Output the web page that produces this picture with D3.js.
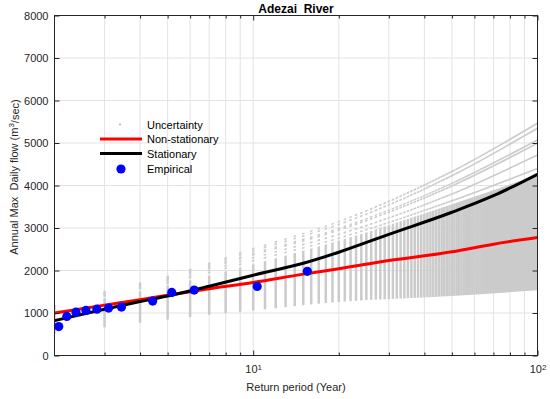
<!DOCTYPE html>
<html lang="en">
<head>
<meta charset="UTF-8">
<title>Adezai River</title>
<style>
	body { margin: 0; background: #fff; }
	text { font-family: "Liberation Sans", Arial, sans-serif; }
</style>
</head>
<body>
<script src="https://cdn.jsdelivr.net/npm/d3@7"></script>
<script>

var curveT = [2, 3, 4, 5, 7, 10, 15, 20, 30, 50, 70, 100];
var stationary    = [820, 1090, 1270, 1400, 1630, 1890, 2170, 2430, 2850, 3370, 3760, 4265];
var nonStationary = [1000, 1185, 1315, 1420, 1570, 1720, 1915, 2040, 2235, 2440, 2620, 2775];

// empirical (plotting position) points
var empT = [2.07, 2.21, 2.38, 2.58, 2.82, 3.10, 3.44, 4.43, 5.17, 6.20, 10.33, 15.5];
var empQ = [680, 920, 1020, 1060, 1090, 1115, 1140, 1280, 1485, 1540, 1625, 1980];

// uncertainty band (bootstrap curves), read at these return periods
var uncT    = [2, 3, 5, 10, 20, 50, 100];
var uncLow  = [520, 665, 850, 1060, 1260, 1400, 1533];
var uncHigh = [1050, 1350, 1650, 2150, 2700, 3560, 4250];
// a few high outlying curves above the dense band
var uncOut1 = [1150, 1500, 1860, 2510, 3150, 4330, 5465];
var uncOut2 = [1140, 1480, 1830, 2460, 3080, 4230, 5347];
var uncOut3 = [1120, 1460, 1800, 2400, 2990, 4050, 5071];
var uncOut4 = [1110, 1450, 1780, 2370, 2950, 3990, 4993];
var uncOut5 = [1090, 1420, 1740, 2300, 2850, 3800, 4717];
var uncOut6 = [1070, 1400, 1700, 2230, 2760, 3640, 4403];

// the uncertainty was evaluated at whole years
var sampleYears = d3.range(2, 101);

var yTicks = [0, 1000, 2000, 3000, 4000, 5000, 6000, 7000, 8000];
var xMajor = [10, 100];
var xMinor = [3, 4, 5, 6, 7, 8, 9, 20, 30, 40, 50, 60, 70, 80, 90];

var width = 550, height = 399;
var box = { left: 54.5, right: 537.5, top: 15.5, bottom: 355.5 };

var svg = d3.select("body").append("svg")
	.attr("width", width)
	.attr("height", height);

svg.append("rect").attr("width", width).attr("height", height).attr("fill", "#fff");

var x = d3.scaleLog().domain([2, 100]).range([box.left, box.right]);
var y = d3.scaleLinear().domain([0, 8000]).range([box.bottom, box.top]);

var defs = svg.append("defs");
defs.append("clipPath").attr("id", "plotArea")
	.append("rect")
	.attr("x", box.left).attr("y", box.top)
	.attr("width", box.right - box.left).attr("height", box.bottom - box.top);

// thin vertical strips, one per sampled year
defs.append("clipPath").attr("id", "strips")
	.selectAll("rect")
	.data(sampleYears)
	.enter().append("rect")
	.attr("x", function(d) { return x(d) - 1.25; })
	.attr("y", box.top)
	.attr("width", 2.5)
	.attr("height", box.bottom - box.top);

// grid
var grid = svg.append("g").attr("stroke", "#e3e3e3").attr("stroke-width", 1);
grid.selectAll("line.gy")
	.data(yTicks.slice(1, -1))
	.enter().append("line")
	.attr("x1", box.left).attr("x2", box.right)
	.attr("y1", function(d) { return y(d); })
	.attr("y2", function(d) { return y(d); });
grid.selectAll("line.gx")
	.data(xMinor.concat([10]))
	.enter().append("line")
	.attr("x1", function(d) { return x(d); })
	.attr("x2", function(d) { return x(d); })
	.attr("y1", box.top).attr("y2", box.bottom);

var plot = svg.append("g").attr("clip-path", "url(#plotArea)");

// uncertainty
var unc = plot.append("g").attr("clip-path", "url(#strips)");
var band = uncT.map(function(t, i) { return { t: t, lo: uncLow[i], hi: uncHigh[i] }; });
unc.append("path")
	.datum(band)
	.attr("fill", "#cbcbcb")
	.attr("d", d3.area()
		.curve(d3.curveMonotoneX)
		.x(function(d) { return x(d.t); })
		.y0(function(d) { return y(d.lo); })
		.y1(function(d) { return y(d.hi); }));

var outLine = d3.line()
	.curve(d3.curveMonotoneX)
	.x(function(d, i) { return x(uncT[i]); })
	.y(function(d) { return y(d); });
unc.selectAll("path.out")
	.data([uncOut1, uncOut2, uncOut3, uncOut4, uncOut5, uncOut6])
	.enter().append("path")
	.attr("fill", "none")
	.attr("stroke", "#cbcbcb")
	.attr("stroke-width", 1.6)
	.attr("d", outLine);

// fitted curves
var curveLine = d3.line()
	.curve(d3.curveMonotoneX)
	.x(function(d, i) { return x(curveT[i]); })
	.y(function(d) { return y(d); });

plot.append("path")
	.attr("fill", "none").attr("stroke", "#ff0000").attr("stroke-width", 3)
	.attr("d", curveLine(nonStationary));
plot.append("path")
	.attr("fill", "none").attr("stroke", "#000").attr("stroke-width", 3)
	.attr("d", curveLine(stationary));

// empirical points
svg.append("g").selectAll("circle")
	.data(empT)
	.enter().append("circle")
	.attr("cx", function(d) { return x(d); })
	.attr("cy", function(d, i) { return y(empQ[i]); })
	.attr("r", 4.6)
	.attr("fill", "#0000ff");

// axes
var axisColor = "#262626";
function styleAxis(g) {
	g.select(".domain").remove();
	g.selectAll("line").attr("stroke", axisColor);
	g.selectAll("text").attr("fill", axisColor).attr("font-size", "11px")
		.attr("font-family", "'Liberation Sans', Arial, sans-serif");
}

svg.append("g")
	.attr("transform", "translate(0," + box.bottom + ")")
	.call(d3.axisBottom(x).tickValues(xMajor).tickSizeInner(-5).tickSizeOuter(0).tickPadding(10)
		.tickFormat(function(d) { return ""; }))
	.call(styleAxis)
	.selectAll("text")
	.each(function(d) {
		var t = d3.select(this);
		t.append("tspan").text("10");
		t.append("tspan").attr("dy", "-0.45em").attr("font-size", "8px").text(Math.round(Math.log10(d)));
	});
svg.append("g")
	.attr("transform", "translate(0," + box.bottom + ")")
	.call(d3.axisBottom(x).tickValues(xMinor).tickSizeInner(-3).tickSizeOuter(0).tickFormat(""))
	.call(styleAxis);
svg.append("g")
	.attr("transform", "translate(0," + box.top + ")")
	.call(d3.axisTop(x).tickValues(xMajor).tickSizeInner(-5).tickSizeOuter(0).tickFormat(""))
	.call(styleAxis);
svg.append("g")
	.attr("transform", "translate(0," + box.top + ")")
	.call(d3.axisTop(x).tickValues(xMinor).tickSizeInner(-3).tickSizeOuter(0).tickFormat(""))
	.call(styleAxis);
svg.append("g")
	.attr("transform", "translate(" + box.left + ",0)")
	.call(d3.axisLeft(y).tickValues(yTicks).tickSizeInner(-5).tickSizeOuter(0).tickPadding(6)
		.tickFormat(d3.format("d")))
	.call(styleAxis);
svg.append("g")
	.attr("transform", "translate(" + box.right + ",0)")
	.call(d3.axisRight(y).tickValues(yTicks).tickSizeInner(-5).tickSizeOuter(0).tickFormat(""))
	.call(styleAxis);

svg.append("rect")
	.attr("x", box.left).attr("y", box.top)
	.attr("width", box.right - box.left).attr("height", box.bottom - box.top)
	.attr("fill", "none").attr("stroke", axisColor).attr("stroke-width", 1);

// title and labels
svg.append("text")
	.attr("x", (box.left + box.right) / 2).attr("y", 13)
	.attr("text-anchor", "middle")
	.attr("font-size", "12px").attr("font-weight", "bold")
	.attr("fill", "#000")
	.style("white-space", "pre")
	.text("Adezai  River");

svg.append("text")
	.attr("x", (box.left + box.right) / 2).attr("y", 391)
	.attr("text-anchor", "middle")
	.attr("font-size", "11px").attr("fill", axisColor)
	.text("Return period (Year)");

var ylab = svg.append("text")
	.attr("transform", "translate(18,177) rotate(-90)")
	.attr("text-anchor", "middle")
	.attr("font-size", "11px").attr("fill", axisColor)
	.style("white-space", "pre");
ylab.append("tspan").text("Annual Max  Daily flow (m");
ylab.append("tspan").attr("dy", "-0.45em").attr("font-size", "8px").text("3");
ylab.append("tspan").attr("dy", "0.45em").text("/sec)");

// legend
var legend = svg.append("g");
var legendItems = ["Uncertainty", "Non-stationary", "Stationary", "Empirical"];
var legendY = [124.5, 139, 153.5, 169];

legend.append("circle").attr("cx", 120).attr("cy", legendY[0]).attr("r", 1.1).attr("fill", "#bdbdbd");
legend.append("line").attr("x1", 100).attr("x2", 142).attr("y1", legendY[1]).attr("y2", legendY[1])
	.attr("stroke", "#ff0000").attr("stroke-width", 3);
legend.append("line").attr("x1", 100).attr("x2", 142).attr("y1", legendY[2]).attr("y2", legendY[2])
	.attr("stroke", "#000").attr("stroke-width", 3);
legend.append("circle").attr("cx", 121).attr("cy", legendY[3]).attr("r", 4.6).attr("fill", "#0000ff");

legend.selectAll("text")
	.data(legendItems)
	.enter().append("text")
	.attr("x", 147)
	.attr("y", function(d, i) { return legendY[i] + 4; })
	.attr("font-size", "11px")
	.attr("fill", "#000")
	.text(function(d) { return d; });

</script>
</body>
</html>
